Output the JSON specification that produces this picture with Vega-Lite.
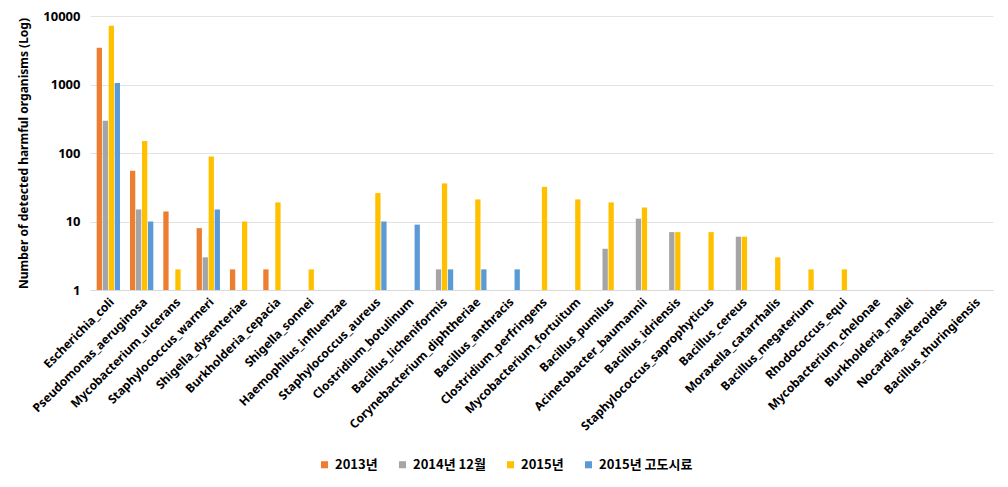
{
  "$schema": "https://vega.github.io/schema/vega-lite/v6.json",
  "autosize": {"type": "none"},
  "padding": {"left": 90, "top": 16, "right": 15, "bottom": 197},
  "width": 903,
  "height": 274,
  "background": "white",
  "config": {
    "view": {"stroke": null},
    "font": "Noto Sans",
    "axis": {"labelFont": "Noto Sans", "titleFont": "Noto Sans"}
  },
  "data": {
    "values": [
      {"org": "Escherichia_coli", "series": "2013년", "value": 3450},
      {"org": "Escherichia_coli", "series": "2014년 12월", "value": 295},
      {"org": "Escherichia_coli", "series": "2015년", "value": 7200},
      {"org": "Escherichia_coli", "series": "2015년 고도시료", "value": 1050},
      {"org": "Pseudomonas_aeruginosa", "series": "2013년", "value": 55},
      {"org": "Pseudomonas_aeruginosa", "series": "2014년 12월", "value": 15},
      {"org": "Pseudomonas_aeruginosa", "series": "2015년", "value": 150},
      {"org": "Pseudomonas_aeruginosa", "series": "2015년 고도시료", "value": 10},
      {"org": "Mycobacterium_ulcerans", "series": "2013년", "value": 14},
      {"org": "Mycobacterium_ulcerans", "series": "2015년", "value": 2},
      {"org": "Staphylococcus_warneri", "series": "2013년", "value": 8},
      {"org": "Staphylococcus_warneri", "series": "2014년 12월", "value": 3},
      {"org": "Staphylococcus_warneri", "series": "2015년", "value": 89},
      {"org": "Staphylococcus_warneri", "series": "2015년 고도시료", "value": 15},
      {"org": "Shigella_dysenteriae", "series": "2013년", "value": 2},
      {"org": "Shigella_dysenteriae", "series": "2015년", "value": 10},
      {"org": "Burkholderia_cepacia", "series": "2013년", "value": 2},
      {"org": "Burkholderia_cepacia", "series": "2015년", "value": 19},
      {"org": "Shigella_sonnei", "series": "2015년", "value": 2},
      {"org": "Staphylococcus_aureus", "series": "2015년", "value": 26},
      {"org": "Staphylococcus_aureus", "series": "2015년 고도시료", "value": 10},
      {"org": "Clostridium_botulinum", "series": "2015년 고도시료", "value": 9},
      {"org": "Bacillus_licheniformis", "series": "2014년 12월", "value": 2},
      {"org": "Bacillus_licheniformis", "series": "2015년", "value": 36},
      {"org": "Bacillus_licheniformis", "series": "2015년 고도시료", "value": 2},
      {"org": "Corynebacterium_diphtheriae", "series": "2015년", "value": 21},
      {"org": "Corynebacterium_diphtheriae", "series": "2015년 고도시료", "value": 2},
      {"org": "Bacillus_anthracis", "series": "2015년 고도시료", "value": 2},
      {"org": "Clostridium_perfringens", "series": "2015년", "value": 32},
      {"org": "Mycobacterium_fortuitum", "series": "2015년", "value": 21},
      {"org": "Bacillus_pumilus", "series": "2014년 12월", "value": 4},
      {"org": "Bacillus_pumilus", "series": "2015년", "value": 19},
      {"org": "Acinetobacter_baumannii", "series": "2014년 12월", "value": 11},
      {"org": "Acinetobacter_baumannii", "series": "2015년", "value": 16},
      {"org": "Bacillus_idriensis", "series": "2014년 12월", "value": 7},
      {"org": "Bacillus_idriensis", "series": "2015년", "value": 7},
      {"org": "Staphylococcus_saprophyticus", "series": "2015년", "value": 7},
      {"org": "Bacillus_cereus", "series": "2014년 12월", "value": 6},
      {"org": "Bacillus_cereus", "series": "2015년", "value": 6},
      {"org": "Moraxella_catarrhalis", "series": "2015년", "value": 3},
      {"org": "Bacillus_megaterium", "series": "2015년", "value": 2},
      {"org": "Rhodococcus_equi", "series": "2015년", "value": 2}
    ]
  },
  "mark": {"type": "bar"},
  "encoding": {
    "x": {
      "field": "org",
      "type": "nominal",
      "title": null,
      "scale": {
        "domain": ["Escherichia_coli", "Pseudomonas_aeruginosa", "Mycobacterium_ulcerans", "Staphylococcus_warneri", "Shigella_dysenteriae", "Burkholderia_cepacia", "Shigella_sonnei", "Haemophilus_influenzae", "Staphylococcus_aureus", "Clostridium_botulinum", "Bacillus_licheniformis", "Corynebacterium_diphtheriae", "Bacillus_anthracis", "Clostridium_perfringens", "Mycobacterium_fortuitum", "Bacillus_pumilus", "Acinetobacter_baumannii", "Bacillus_idriensis", "Staphylococcus_saprophyticus", "Bacillus_cereus", "Moraxella_catarrhalis", "Bacillus_megaterium", "Rhodococcus_equi", "Mycobacterium_chelonae", "Burkholderia_mallei", "Nocardia_asteroides", "Bacillus_thuringiensis"],
        "paddingInner": 0.3,
        "paddingOuter": 0.2
      },
      "axis": {
        "labelAngle": -45,
        "labelFontSize": 12,
        "labelFontWeight": "bold",
        "labelColor": "#000000",
        "labelPadding": 6,
        "ticks": false,
        "domainColor": "#D9D9D9",
        "labelLimit": 300
      }
    },
    "xOffset": {
      "field": "series",
      "type": "nominal",
      "scale": {"domain": ["2013년", "2014년 12월", "2015년", "2015년 고도시료"], "paddingInner": 0.12}
    },
    "y": {
      "field": "value",
      "type": "quantitative",
      "stack": null,
      "scale": {"type": "log", "domain": [1, 10000], "nice": false},
      "title": "Number of detected harmful organisms (Log)",
      "axis": {
        "values": [1, 10, 100, 1000, 10000],
        "format": "d",
        "labelFontSize": 13,
        "labelFontWeight": "bold",
        "labelColor": "#000000",
        "labelPadding": 10,
        "ticks": false,
        "domain": false,
        "gridColor": "#E3E3E3",
        "titleFontSize": 12,
        "titleFontWeight": "bold",
        "titleColor": "#000000",
        "titlePadding": 12
      }
    },
    "y2": {"datum": 1},
    "color": {
      "field": "series",
      "type": "nominal",
      "scale": {
        "domain": ["2013년", "2014년 12월", "2015년", "2015년 고도시료"],
        "range": ["#ED7D31", "#A5A5A5", "#FFC000", "#5B9BD5"]
      },
      "legend": {
        "title": null,
        "orient": "none",
        "direction": "horizontal",
        "legendX": 228,
        "legendY": 442,
        "symbolType": "square",
        "symbolSize": 50,
        "labelFont": "Noto Sans CJK KR",
        "labelFontSize": 13,
        "labelFontWeight": "bold",
        "labelColor": "#000000",
        "columnPadding": 18
      }
    }
  }
}
